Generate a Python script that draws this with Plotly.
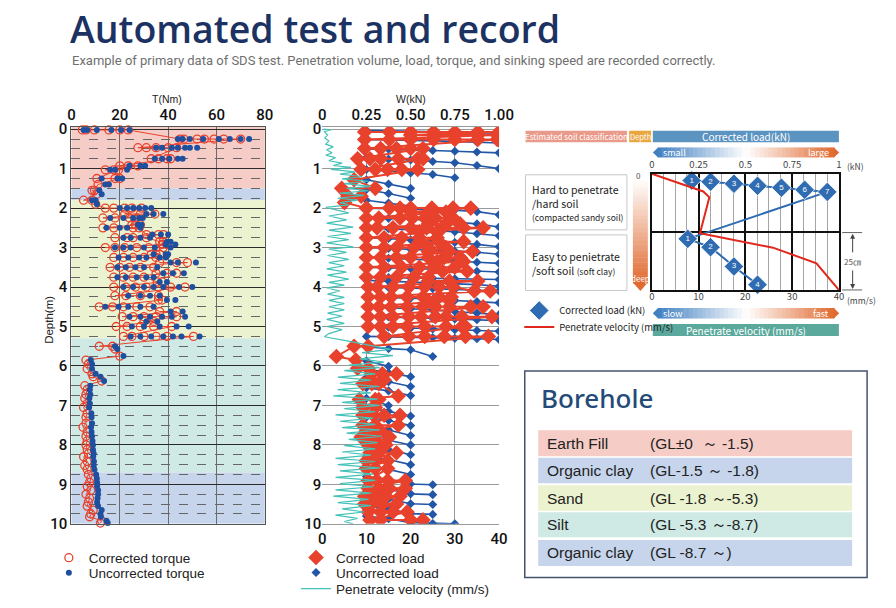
import plotly.graph_objects as go

REF_W, REF_H = 896, 608          # reference frame used for positions
FIG_W, FIG_H = 912, 624          # page size that the capture is scaled from
DY = 6.5                         # vertical offset of the capture, in reference pixels


def PX(x):
    return x / REF_W


def PY(y):
    return 1 - (y - DY) / REF_H


# ---------------------------------------------------------------- data
# Torque panel: one row per penetration step (depth in m, torque values in N*m)
TORQUE_DEPTH = [0.02, 0.25, 0.47, 0.75, 0.93, 1.03, 1.25, 1.4, 1.55, 1.65,
                1.8, 1.9, 2.0, 2.15, 2.25, 2.42, 2.5, 2.67, 2.75, 2.85,
                2.92, 3.0, 3.17, 3.25, 3.38, 3.5, 3.65, 3.75, 3.87, 4.0,
                4.22, 4.33, 4.5, 4.62, 4.75, 4.87, 5.0, 5.25, 5.5, 5.57,
                5.75, 5.85, 5.95, 6.07, 6.2, 6.27, 6.38, 6.5, 6.6, 6.72,
                6.82, 6.95, 7.05, 7.2, 7.3, 7.45, 7.55, 7.67, 7.78, 7.9,
                8.0, 8.12, 8.22, 8.3, 8.42, 8.52, 8.62, 8.75, 8.85, 8.95,
                9.05, 9.15, 9.25, 9.35, 9.45, 9.55, 9.65, 9.75, 9.82, 9.92, 9.98]
TORQUE_CORRECTED = [
    [4.5, 6, 9.5, 15.5, 20, 23.5], [45, 46.5, 52, 55, 59, 63, 70], [27.5, 31, 35, 40, 43.5],
    [33, 36, 39.5, 41], [20, 23.5, 27.5], [14, 17.5, 19.5], [10.5, 18, 20], [11], [9.5, 8.5], [10.5],
    [5, 8.5], [10], [14, 17.5, 22, 25, 29], [22, 28.5, 34.5], [13, 18, 24, 27], [25, 26.5, 28.5],
    [13, 17.5, 25.5, 28], [31, 36, 38], [18, 23, 25.5, 31], [36.5, 38],
    [37.5, 39.5], [14, 18, 22, 27, 32, 38], [33, 35, 36.5], [17.5, 21.5, 25.5, 30, 35], [36.5, 43.5, 48],
    [16, 20, 24, 28.5, 34], [35, 39.5, 43.5], [17.5, 21.5, 25.5, 30], [35.5, 37.5], [17.5, 22.5, 26.5, 31, 36, 41, 47],
    [18, 22.5, 28.5, 36], [36, 37.5], [11.5, 17, 21.5, 27, 32.5], [36.5, 43.5], [21, 25.5, 30, 35, 43.5],
    [30, 34], [18.5, 23, 28.5, 34, 41.5], [21.5, 25, 30, 35, 39.5, 50.5], [11.5, 17], [18],
    [20], [6], [7], [6.5], [8.5], [9], [12.5], [5.5], [6.5], [6],
    [5.5], [6.5], [5], [6.5], [6], [6], [4.8], [6.5], [6], [6.5],
    [6], [6.5], [7], [5], [6.5], [5.5], [6.5], [7], [8], [7.5],
    [6.5], [8], [6], [7.5], [7], [6.5], [9], [8], [7.5], [12.5], [12]]
TORQUE_UNCORRECTED = [
    [5, 6.5, 10.5, 16.5, 20.5, 24], [44, 46, 49, 54.5, 61, 65.5, 70, 73.5], [35, 37.5, 41.5, 44, 47, 49, 52],
    [34.5, 37.5, 40.5, 44, 46], [24, 28.5, 30.5], [16, 18, 23], [12.5, 19, 21], [14, 15.5], [11.5], [12.5],
    [8.5, 10], [10.5], [20, 23, 25.5, 28, 30.5, 33], [31, 34, 38], [16, 21.5, 25.5, 28, 29.5], [27.5, 29],
    [14.5, 20, 23, 28.5], [33.5, 37, 40], [21.5, 24.5, 28.5, 32.5], [39.5, 41],
    [39, 43], [18, 21.5, 24.5, 30, 34.5, 41], [34, 39, 40], [19.5, 23.5, 28, 31, 36.5, 39], [41, 44, 51.5],
    [19, 22.5, 26.5, 30, 35.5], [38, 42, 46.5], [19, 22.5, 27, 31, 34], [36.5, 39.5], [21.5, 25.5, 30, 34, 38, 44.5, 50],
    [23.5, 28.5, 32.5, 36.5], [39.5, 43], [14, 19.5, 23.5, 28.5, 34], [41, 46], [24, 28.5, 32.5, 37.5, 41.5, 47],
    [31, 35.5], [25, 30, 36.5, 43.5, 48.5], [24.5, 28.5, 33, 38, 42, 45.5, 53], [18], [19],
    [21.5], [8], [8.5], [8.5], [10], [12], [13.5], [7.8], [7.6], [7.8],
    [7.4], [7.6], [7.3], [8.2], [8.3], [8.5], [8.1], [8.3], [8.5], [8.7],
    [8.9], [8.9], [9.2], [9], [9.3], [9.2], [9.5], [10.2], [10.5], [10.6],
    [10.6], [11], [11], [10.8], [10.6], [11], [12.5], [12], [12.2], [14.5], [15]]

# Load panel: applied load steps (kN) and the depth reached at each step
LOAD_STEPS = [0.25, 0.375, 0.5, 0.625, 0.75, 0.875, 1.0]
LOAD_UNCORR_DEPTHS = [
    [0.03, 0.04, 0.05, 0.06, 0.07, 0.09, 0.1], [0.26, 0.27, 0.28, 0.29, 0.31, 0.33, 0.35],
    [0.5, 0.51, 0.53, 0.54, 0.56, 0.58, 0.6], [0.72, 0.76, 0.78, 0.82, 0.85, 0.92, 1.0],
    [1.02, 1.06, 1.11, 1.15, 1.23], [1.28, 1.39, 1.5], [1.53, 1.63, 1.75], [1.8, 1.87, 1.95],
    [2.0, 2.01, 2.02, 2.03, 2.05, 2.09, 2.17], [2.25, 2.26, 2.28, 2.31, 2.35, 2.4, 2.48],
    [2.5, 2.52, 2.54, 2.57, 2.6, 2.65, 2.7], [2.75, 2.77, 2.8, 2.83, 2.87, 2.92, 2.98],
    [3.0, 3.02, 3.04, 3.06, 3.09, 3.12, 3.17], [3.25, 3.27, 3.29, 3.31, 3.34, 3.37, 3.4],
    [3.5, 3.51, 3.53, 3.55, 3.57, 3.6, 3.62], [3.75, 3.76, 3.77, 3.78, 3.79, 3.8, 3.81],
    [3.83, 3.85, 3.87, 3.89, 3.91, 3.94, 3.98], [4.0, 4.01, 4.02, 4.04, 4.06, 4.08, 4.1],
    [4.25, 4.26, 4.28, 4.31, 4.34, 4.37, 4.4], [4.5, 4.52, 4.55, 4.58, 4.62, 4.66, 4.7],
    [4.75, 4.76, 4.77, 4.79, 4.81, 4.83, 4.85], [5.0, 5.02, 5.04, 5.06, 5.08, 5.1, 5.12],
    [5.25, 5.26, 5.27, 5.28, 5.3, 5.31, 5.33], [5.51, 5.56, 5.59, 5.76],
    [5.87, 6.01], [6.08, 6.17, 6.27], [6.3, 6.4, 6.52], [6.55, 6.63, 6.75], [6.82, 7.0],
    [7.05, 7.15, 7.27], [7.3, 7.38, 7.51], [7.55, 7.62, 7.76], [7.8, 7.88, 8.0],
    [8.05, 8.12, 8.25], [8.3, 8.37, 8.5], [8.55, 8.62, 8.75], [8.8, 8.87, 8.99, 9.01],
    [9.05, 9.12, 9.24, 9.26], [9.3, 9.37, 9.49, 9.51], [9.55, 9.62, 9.74, 9.76],
    [9.8, 9.87, 9.97, 9.99, 10.0]]
LOAD_CORR_DEPTH = [0.07, 0.15, 0.26, 0.49, 0.75, 1.02, 1.28, 1.5, 1.7, 1.86,
                   2.0, 2.1, 2.25, 2.4, 2.5, 2.6, 2.75, 2.85, 3.0, 3.1,
                   3.25, 3.35, 3.5, 3.6, 3.75, 3.85, 4.0, 4.1, 4.25, 4.35,
                   4.5, 4.75, 5.0, 5.25, 5.5, 5.76, 5.85, 6.06, 6.2, 6.35,
                   6.45, 6.76, 6.85, 7.05, 7.25, 7.5, 7.65, 7.8, 8.0, 8.2,
                   8.4, 8.6, 8.9, 9.1, 9.3, 9.5, 9.7, 9.9]
LOAD_CORR_KN = [
    [0.24, 0.38, 0.5, 0.63, 0.75, 0.88, 1.0], [0.5, 0.63, 0.75, 0.88, 0.99],
    [0.24, 0.38, 0.5, 0.63, 0.75, 0.88, 0.99], [0.24, 0.33, 0.42, 0.5, 0.57],
    [0.2, 0.27, 0.33, 0.43, 0.54, 0.57], [0.22, 0.3, 0.37, 0.45, 0.54], [0.18], [0.3, 0.11],
    [0.145, 0.22], [0.126],
    [0.25, 0.38, 0.44, 0.5, 0.62, 0.74, 0.84], [0.5, 0.6, 0.7],
    [0.25, 0.32, 0.44, 0.51, 0.58, 0.64, 0.74], [0.6, 0.7, 0.78],
    [0.25, 0.31, 0.4, 0.5, 0.59, 0.68, 0.8, 0.91], [0.55, 0.65],
    [0.25, 0.35, 0.45, 0.55, 0.65], [0.55, 0.66, 0.8],
    [0.25, 0.35, 0.42, 0.52, 0.6, 0.7], [0.6, 0.72, 0.85],
    [0.25, 0.33, 0.42, 0.5, 0.6, 0.69, 0.78], [0.65, 0.8],
    [0.25, 0.35, 0.45, 0.55, 0.63, 0.75], [0.68, 0.82],
    [0.25, 0.33, 0.42, 0.52, 0.6], [0.6, 0.72, 0.88],
    [0.26, 0.31, 0.4, 0.49, 0.58, 0.66, 0.74], [0.86, 0.95],
    [0.26, 0.33, 0.39, 0.48, 0.57, 0.66, 0.73], [0.6, 0.72],
    [0.26, 0.32, 0.39, 0.48, 0.57, 0.64, 0.72, 0.84, 0.91],
    [0.26, 0.33, 0.4, 0.49, 0.56, 0.64, 0.7, 0.79, 0.96],
    [0.26, 0.33, 0.4, 0.48, 0.58, 0.7, 0.79, 0.81],
    [0.35, 0.49, 0.58, 0.69, 0.81, 0.94], [0.26, 0.18], [0.08], [0.19], [0.2, 0.26],
    [0.28, 0.34, 0.42], [0.27, 0.35],
    [0.23, 0.28, 0.32], [0.43], [0.21, 0.3, 0.32], [0.23, 0.3], [0.23, 0.29, 0.35, 0.44],
    [0.23, 0.3, 0.43], [0.25, 0.33], [0.22, 0.29, 0.38], [0.26, 0.32, 0.36], [0.27, 0.32, 0.42],
    [0.25, 0.3, 0.37], [0.25, 0.3, 0.37], [0.26, 0.31, 0.37, 0.47], [0.26, 0.32, 0.38, 0.47],
    [0.24, 0.3, 0.36, 0.44], [0.24, 0.28, 0.34, 0.42], [0.26, 0.33, 0.4, 0.48],
    [0.27, 0.33, 0.5, 0.57]]
VELOCITY_DEPTH = [0.0, 0.02, 0.06, 0.15, 0.22, 0.3, 0.38, 0.45, 0.52, 0.6, 0.66, 0.72, 0.8,
                  0.86, 0.92, 0.97, 1.02, 1.08, 1.14, 1.2, 1.26, 1.32, 1.38, 1.45, 1.5, 1.56,
                  1.62, 1.68, 1.75, 1.8, 1.86, 1.92, 1.98, 2.04, 2.12, 2.2, 2.3, 2.38, 2.48,
                  2.56, 2.64, 2.72, 2.8, 2.88, 2.98, 3.04, 3.12, 3.2, 3.3, 3.38, 3.46, 3.54,
                  3.62, 3.7, 3.8, 3.88, 3.95, 4.02, 4.1, 4.18, 4.26, 4.34, 4.42, 4.5, 4.58,
                  4.66, 4.74, 4.82, 4.92, 5.0, 5.08, 5.18, 5.26, 5.35, 5.42, 5.5, 5.58, 5.66,
                  5.74, 5.82, 5.9, 5.98, 6.04, 6.12, 6.2, 6.28, 6.36, 6.44, 6.52, 6.6, 6.68,
                  6.76, 6.84, 6.92, 7.0, 7.08, 7.16, 7.24, 7.32, 7.4, 7.48, 7.56, 7.62, 7.7,
                  7.78, 7.86, 7.94, 8.02, 8.1, 8.18, 8.26, 8.34, 8.42, 8.5, 8.58, 8.66, 8.74,
                  8.82, 8.9, 8.98, 9.06, 9.14, 9.22, 9.3, 9.38, 9.46, 9.54, 9.62, 9.7, 9.78,
                  9.86, 9.94, 10.0]
VELOCITY_MMS = [0.3, 2.0, 0.5, 1.2, 0.6, 1.5, 0.8, 2.5, 1.0, 2.2, 0.8, 3.0, 1.5,
                4.5, 2.5, 6.5, 2.0, 7.5, 4.0, 9.0, 4.5, 10.5, 5.0, 11.0, 5.5, 10.5,
                4.0, 9.5, 3.5, 8.0, 4.0, 6.0, 0.8, 3.0, 6.0, 1.5, 5.5, 1.0, 7.0,
                1.5, 6.5, 1.2, 6.0, 1.0, 7.0, 1.5, 5.5, 1.2, 6.0, 1.5, 5.0, 1.0,
                5.5, 1.2, 6.0, 1.5, 5.0, 1.0, 4.0, 1.2, 5.0, 1.5, 5.0, 1.5, 5.0,
                1.2, 4.5, 1.0, 5.0, 1.0, 4.5, 1.5, 0.5, 5.0, 8.0, 12.0, 15.5, 9.0,
                16.0, 8.5, 14.0, 6.0, 13.0, 5.0, 12.0, 3.5, 11.0, 4.0, 13.0, 3.5, 11.0,
                2.5, 12.5, 4.5, 13.0, 5.0, 12.0, 3.0, 11.5, 4.0, 12.0, 4.5, 13.0, 5.5,
                13.5, 6.0, 12.5, 5.0, 12.0, 4.5, 11.0, 3.0, 12.0, 3.5, 13.0, 4.0, 11.5,
                3.0, 12.0, 4.0, 11.5, 3.0, 11.0, 2.5, 10.5, 3.5, 11.0, 4.5, 9.5, 3.0,
                8.0, 5.0, 7.0]

# Schematic inset (depth in cm, 50 cm shown)
INSET_LOAD_KN = [0.213, 0.314, 0.439, 0.565, 0.693, 0.817, 0.938, 0.192, 0.314, 0.439, 0.565]
INSET_LOAD_CM = [2.9, 3.4, 4.3, 5.2, 6.0, 6.9, 7.8, 28.0, 31.6, 39.9, 47.7]
INSET_LOAD_LABEL = ["1", "2", "3", "4", "5", "6", "7", "1", "2", "3", "4"]
INSET_VEL_MMS = [0, 11.0, 12.3, 10.3, 25.9, 35.2, 40]
INSET_VEL_CM = [0, 7.6, 10.1, 25.6, 31.8, 38.5, 50]

# Borehole log
SOIL_NAMES = ["Earth Fill", "Organic clay", "Sand", "Silt", "Organic clay"]
SOIL_RANGES = ["(GL±0  ～ -1.5)", "(GL-1.5 ～ -1.8)", "(GL -1.8 ～-5.3)", "(GL -5.3 ～-8.7)", "(GL -8.7 ～)"]
SOIL_TOP = [0, 1.5, 1.8, 5.3, 8.7]
SOIL_BOTTOM = [1.5, 1.8, 5.3, 8.7, 10]
SOIL_COLORS = ["#f6cdc6", "#c7d5ec", "#ebf2cf", "#cfe9e4", "#c7d5ec"]

# ---------------------------------------------------------------- style
RED = "#e8412c"
BLUE_DOT = "#1f4f9f"
BLUE_LOAD = "#2257a8"
TEAL = "#45c2b8"
INSET_BLUE = "#2f6cb1"
SANS = "Liberation Sans, Arial, sans-serif"
NARROW = "Noto Sans CJK JP, Liberation Sans, sans-serif"
DEPTH_RANGE = [10, -0.06]
PANEL_TOP, PANEL_BOTTOM = 127.1, 523.5

fig = go.Figure()

# ---------------- torque panel
tc_x, tc_y, tu_x, tu_y = [], [], [], []
for d, c, u in zip(TORQUE_DEPTH, TORQUE_CORRECTED, TORQUE_UNCORRECTED):
    tc_x += c
    tc_y += [d] * len(c)
    tu_x += u
    tu_y += [d] * len(u)

fig.add_trace(go.Scatter(x=tc_x, y=tc_y, mode="lines", line=dict(color=RED, width=1),
                         xaxis="x", yaxis="y", showlegend=False, hoverinfo="skip", cliponaxis=False))
fig.add_trace(go.Scatter(x=tc_x, y=tc_y, mode="markers", name="Corrected torque",
                         marker=dict(symbol="circle-open", size=8, color=RED, line=dict(width=1.3)),
                         xaxis="x", yaxis="y", legend="legend", cliponaxis=False))
fig.add_trace(go.Scatter(x=tu_x, y=tu_y, mode="markers", name="Uncorrected torque",
                         marker=dict(symbol="circle", size=6, color=BLUE_DOT),
                         xaxis="x", yaxis="y", legend="legend2", cliponaxis=False))

# ---------------- load panel
lu_x, lu_y = [], []
for depths in LOAD_UNCORR_DEPTHS:
    lu_x += LOAD_STEPS[:len(depths)] + [None]
    lu_y += depths + [None]
lc_x, lc_y = [], []
for d, row in zip(LOAD_CORR_DEPTH, LOAD_CORR_KN):
    lc_x += row
    lc_y += [d] * len(row)

fig.add_trace(go.Scatter(x=VELOCITY_MMS, y=VELOCITY_DEPTH, mode="lines", name="Penetrate velocity (mm/s)",
                         line=dict(color=TEAL, width=1.2), xaxis="x3", yaxis="y2", legend="legend5"))
fig.add_trace(go.Scatter(x=lu_x, y=lu_y, mode="lines", line=dict(color=BLUE_LOAD, width=1.6),
                         xaxis="x2", yaxis="y2", showlegend=False, hoverinfo="skip"))
fig.add_trace(go.Scatter(x=lu_x, y=lu_y, mode="markers", name="Uncorrected load",
                         marker=dict(symbol="diamond", size=7, color=BLUE_LOAD),
                         xaxis="x2", yaxis="y2", legend="legend4"))
fig.add_trace(go.Scatter(x=lc_x, y=lc_y, mode="lines", line=dict(color=RED, width=2),
                         xaxis="x2", yaxis="y2", showlegend=False, hoverinfo="skip"))
fig.add_trace(go.Scatter(x=lc_x, y=lc_y, mode="markers", name="Corrected load",
                         marker=dict(symbol="diamond", size=12, color=RED),
                         xaxis="x2", yaxis="y2", legend="legend3"))

# ---------------- inset schematic
fig.add_trace(go.Scatter(x=INSET_VEL_MMS, y=INSET_VEL_CM, mode="lines", name="Penetrate velocity (mm/s)",
                         line=dict(color="#e0281c", width=2), xaxis="x5", yaxis="y3", legend="legend7"))
fig.add_trace(go.Scatter(x=INSET_LOAD_KN, y=INSET_LOAD_CM, mode="lines", line=dict(color=INSET_BLUE, width=2),
                         xaxis="x4", yaxis="y3", showlegend=False, hoverinfo="skip"))
fig.add_trace(go.Scatter(x=INSET_LOAD_KN, y=INSET_LOAD_CM, mode="markers", name="Corrected load (kN)",
                         marker=dict(symbol="diamond", size=15, color=INSET_BLUE, line=dict(color="white", width=0.8)),
                         xaxis="x4", yaxis="y3", legend="legend6", cliponaxis=False))
fig.add_trace(go.Scatter(x=INSET_LOAD_KN, y=INSET_LOAD_CM, mode="text", text=INSET_LOAD_LABEL,
                         textfont=dict(color="white", size=8, family=SANS),
                         xaxis="x4", yaxis="y3", showlegend=False, hoverinfo="skip", cliponaxis=False))

# ---------------------------------------------------------------- shapes
shapes = []
for i, (top, bot, col) in enumerate(zip(SOIL_TOP, SOIL_BOTTOM, SOIL_COLORS)):
    shapes.append(dict(type="rect", xref="x domain", yref="y", x0=0, x1=1,
                       y0=top if i > 0 else DEPTH_RANGE[1], y1=bot,
                       fillcolor=col, line=dict(width=0), layer="below"))


def hex_rgb(h):
    return tuple(int(h[i:i + 2], 16) for i in (1, 3, 5))


def stop_color(stops, t):
    for (t0, c0), (t1, c1) in zip(stops[:-1], stops[1:]):
        if t <= t1:
            f = (t - t0) / (t1 - t0) if t1 > t0 else 0
            a, b = hex_rgb(c0), hex_rgb(c1)
            return "rgb(%d,%d,%d)" % tuple(round(a[k] + (b[k] - a[k]) * f) for k in range(3))
    return stops[-1][1]


def rect(x0, x1, y0, y1, fill, line_color=None, line_width=0):
    return dict(type="rect", xref="paper", yref="paper", x0=PX(x0), x1=PX(x1), y0=PY(y1), y1=PY(y0),
                fillcolor=fill, line=dict(color=line_color or fill, width=line_width), layer="above")


def poly(points, fill):
    path = "M " + " L ".join("%f,%f" % (PX(x), PY(y)) for x, y in points) + " Z"
    return dict(type="path", xref="paper", yref="paper", path=path, fillcolor=fill,
                line=dict(width=0), layer="above")


def h_gradient_arrow(x0, x1, y0, y1, stops, tip=5, n=40):
    out = []
    bx0, bx1 = x0 + tip, x1 - tip
    for k in range(n):
        xa = bx0 + (bx1 - bx0) * k / n
        xb = bx0 + (bx1 - bx0) * (k + 1) / n + 0.4
        out.append(rect(xa, xb, y0, y1, stop_color(stops, (k + 0.5) / n)))
    ym = (y0 + y1) / 2
    out.append(poly([(x0, ym), (bx0 + 0.4, y0), (bx0 + 0.4, y1)], stops[0][1]))
    out.append(poly([(x1, ym), (bx1 - 0.4, y0), (bx1 - 0.4, y1)], stops[-1][1]))
    return out


def v_gradient_arrow(x0, x1, y0, y1, stops, tip=8, n=40):
    out = []
    by1 = y1 - tip
    for k in range(n):
        ya = y0 + (by1 - y0) * k / n
        yb = y0 + (by1 - y0) * (k + 1) / n + 0.4
        out.append(rect(x0, x1, ya, yb, stop_color(stops, (k + 0.5) / n)))
    out.append(poly([(x0, by1 - 0.4), (x1, by1 - 0.4), ((x0 + x1) / 2, y1)], stops[-1][1]))
    return out


BLUE_GRAD = [(0, "#3f7fc0"), (0.5, "#ffffff"), (1, "#e06a30")]
shapes += h_gradient_arrow(651, 838, 147.7, 157.7, BLUE_GRAD)
shapes += h_gradient_arrow(651, 838, 308, 318.5, BLUE_GRAD)
shapes += v_gradient_arrow(631, 646, 180, 291, [(0, "#ffffff"), (1, "#e06a30")])

# header bars
shapes.append(rect(523.3, 625, 131, 142.5, "#ea9a8a"))
shapes.append(rect(627.3, 649.3, 131, 142.5, "#eaa63f"))
shapes.append(rect(651, 837.7, 131, 142.5, "#5b93c1"))
shapes.append(rect(651, 837.7, 324, 336, "#5ba99c"))
# description boxes
shapes.append(rect(523.3, 625, 175, 230, "white", "#c8c8c8", 1))
shapes.append(rect(523.3, 625, 235, 290.5, "white", "#c8c8c8", 1))
# 25 cm dimension guides
for yy in (232.7, 290):
    shapes.append(dict(type="line", xref="paper", yref="paper", x0=PX(841), x1=PX(861),
                       y0=PY(yy), y1=PY(yy), line=dict(color="#666", width=1)))

# borehole table
shapes.append(rect(522.5, 866, 371, 577, "white", "#46536d", 1.5))
ROW_Y = [(430, 456), (457.5, 483), (485, 510.5), (512, 537), (539.5, 565.5)]
for (ya, yb), col in zip(ROW_Y, SOIL_COLORS):
    shapes.append(rect(536, 851, ya, yb, col))

# ---------------------------------------------------------------- annotations
ann = []


def text(x, y, s, size, color="#222", family=SANS, xanchor="left", yanchor="middle", **kw):
    ann.append(dict(x=PX(x), y=PY(y), xref="paper", yref="paper", text=s, showarrow=False,
                    xanchor=xanchor, yanchor=yanchor, font=dict(size=size, color=color, family=family), **kw))


text(64, 29, "Automated test and record", 37.5, "#1c3262", "Open Sans, Noto Sans, sans-serif")
ann[-1]["font"]["weight"] = 600
text(66, 60.5, "Example of primary data of SDS test. Penetration volume, load, torque, and sinking speed are recorded correctly.",
     13, "#6f6f6f", "Roboto, Liberation Sans, sans-serif")

text(164, 99, "T(Nm)", 10.5, "#222", xanchor="center")
text(408, 99, "W(kN)", 10.5, "#222", xanchor="center")
text(45, 320, "Depth(m)", 11.5, "#222", xanchor="center", textangle=-90)

# inset texts
text(574, 136.8, "Estimated soil classification", 8, "white", NARROW, xanchor="center")
text(638.3, 136.8, "Depth", 7.5, "white", NARROW, xanchor="center")
text(744, 136.8, "Corrected load(kN)", 10, "white", NARROW, xanchor="center")
text(744, 330, "Penetrate velocity (mm/s)", 10, "white", NARROW, xanchor="center")
text(659, 152.7, "small", 9, "white", NARROW)
text(830, 152.7, "large", 9, "white", NARROW, xanchor="right")
text(659, 313.3, "slow", 9, "white", NARROW)
text(830, 313.3, "fast", 9, "white", NARROW, xanchor="right")
text(637, 176, "0", 8, "#555", NARROW, xanchor="center")
text(638.5, 279, "deep", 8, "white", NARROW, xanchor="center")
text(844, 166, "(kN)", 8.5, "#444", NARROW)
text(844, 300, "(mm/s)", 8.5, "#444", NARROW)
text(528, 203, "Hard to penetrate<br>/hard soil<br><span style='font-size:8.5px'>(compacted sandy soil)</span>",
     10.5, "#222", NARROW, align="left")
text(528, 263.5, "Easy to penietrate<br>/soft soil <span style='font-size:8.5px'>(soft clay)</span>",
     10.5, "#222", NARROW, align="left")
text(851.5, 261.5, "25㎝", 8, "#555", "Noto Sans CJK JP", xanchor="center")
for y_head, tail_offset in ((234, 20), (289, -20)):
    ann.append(dict(x=PX(851.5), y=PY(y_head), ax=0, ay=tail_offset, xref="paper", yref="paper",
                    axref="pixel", ayref="pixel", text="", showarrow=True, arrowhead=2,
                    arrowsize=1, arrowwidth=1, arrowcolor="#444"))

# borehole texts
text(537, 398, "Borehole", 26, "#244a78", "Noto Sans, sans-serif")
ann[-1]["font"]["weight"] = 500
for (ya, yb), name, rng in zip(ROW_Y, SOIL_NAMES, SOIL_RANGES):
    text(543, (ya + yb) / 2, name, 15.5, "#222")
    text(646.5, (ya + yb) / 2, rng, 15.5, "#222")

# ---------------------------------------------------------------- axes
tick_font = dict(family="Roboto, Liberation Sans, sans-serif", size=15, color="#111", weight=500)
small_tick = dict(family=NARROW, size=9.5, color="#444")
ydom = [PY(PANEL_BOTTOM), PY(PANEL_TOP)]


def legend_at(x, y, size, family=SANS):
    return dict(x=PX(x), y=PY(y), xanchor="left", yanchor="middle", bgcolor="rgba(0,0,0,0)",
                font=dict(family=family, size=size, color="#222"), itemclick=False, itemdoubleclick=False)


fig.update_layout(
    width=FIG_W, height=FIG_H, margin=dict(l=0, r=0, t=0, b=0),
    paper_bgcolor="white", plot_bgcolor="white",
    shapes=shapes, annotations=ann, hovermode=False,
    xaxis=dict(domain=[PX(67.7), PX(261.7)], range=[0, 80], side="top", anchor="y",
               tickvals=[0, 20, 40, 60, 80], ticks="", tickfont=tick_font,
               showgrid=True, gridcolor="#6a6a6a", gridwidth=1, zeroline=False,
               showline=True, mirror=True, linecolor="#555", linewidth=1.2),
    yaxis=dict(domain=ydom, range=DEPTH_RANGE, anchor="x", tick0=0, dtick=1, ticks="",
               tickfont=tick_font, showgrid=True, gridcolor="#2a2a2a", gridwidth=1.3, zeroline=False,
               minor=dict(dtick=0.25, showgrid=True, gridcolor="#666", griddash="dash", gridwidth=1),
               showline=True, mirror=True, linecolor="#555", linewidth=1.2),
    xaxis2=dict(domain=[PX(319.3), PX(496.7)], range=[0, 1], side="top", anchor="y2",
                tickvals=[0, 0.25, 0.5, 0.75, 1.0], ticktext=["0", "0.25", "0.50", "0.75", "1.00"],
                ticks="", tickfont=tick_font, showgrid=True, gridcolor="#9a9a9a", gridwidth=1,
                zeroline=False, showline=True, mirror=True, linecolor="#9a9a9a", linewidth=1),
    xaxis3=dict(overlaying="x2", range=[0, 40], side="bottom", anchor="y2",
                tickvals=[0, 10, 20, 30, 40], ticks="", tickfont=tick_font, showgrid=False, zeroline=False,
                ticklabelstandoff=4),
    yaxis2=dict(domain=ydom, range=DEPTH_RANGE, anchor="x2", tick0=0, dtick=1, ticks="",
                tickfont=tick_font, showgrid=True, gridcolor="#9a9a9a", gridwidth=1, zeroline=False,
                showline=False),
    xaxis4=dict(domain=[PX(650), PX(837.7)], range=[0, 1], side="top", anchor="y3",
                tickvals=[0, 0.25, 0.5, 0.75, 1.0], ticktext=["0", "0.25", "0.5", "0.75", "1"],
                ticks="", tickfont=small_tick, showgrid=True, gridcolor="#111", gridwidth=2,
                minor=dict(dtick=0.0625, showgrid=True, gridcolor="#a5a5a5", gridwidth=1),
                zeroline=False, showline=True, mirror=True, linecolor="#111", linewidth=2),
    xaxis5=dict(overlaying="x4", range=[0, 40], side="bottom", anchor="y3",
                tickvals=[0, 10, 20, 30, 40], ticks="", tickfont=small_tick, showgrid=False, zeroline=False),
    yaxis3=dict(domain=[PY(290), PY(174)], range=[50, 0], anchor="x4", dtick=25, showticklabels=False,
                ticks="", showgrid=True, gridcolor="#111", gridwidth=2, zeroline=False,
                showline=True, mirror=True, linecolor="#111", linewidth=2),
    legend=legend_at(45, 557.5, 13.5),
    legend2=legend_at(45, 572.5, 13.5),
    legend3=legend_at(293, 557.3, 13.5),
    legend4=legend_at(293, 572.3, 13.5),
    legend5=legend_at(293, 588.3, 13.5),
    legend6=legend_at(517, 310.5, 9.5, NARROW),
    legend7=legend_at(517, 327, 9.5, NARROW),
)

PAGE_FIT = ("var h=document.documentElement.style,b=document.body.style;"
            "h.margin=b.margin='0';h.padding=b.padding='0';h.overflow=b.overflow='hidden';")
fig.write_html("out.html", config={"displayModeBar": False}, post_script=PAGE_FIT)
